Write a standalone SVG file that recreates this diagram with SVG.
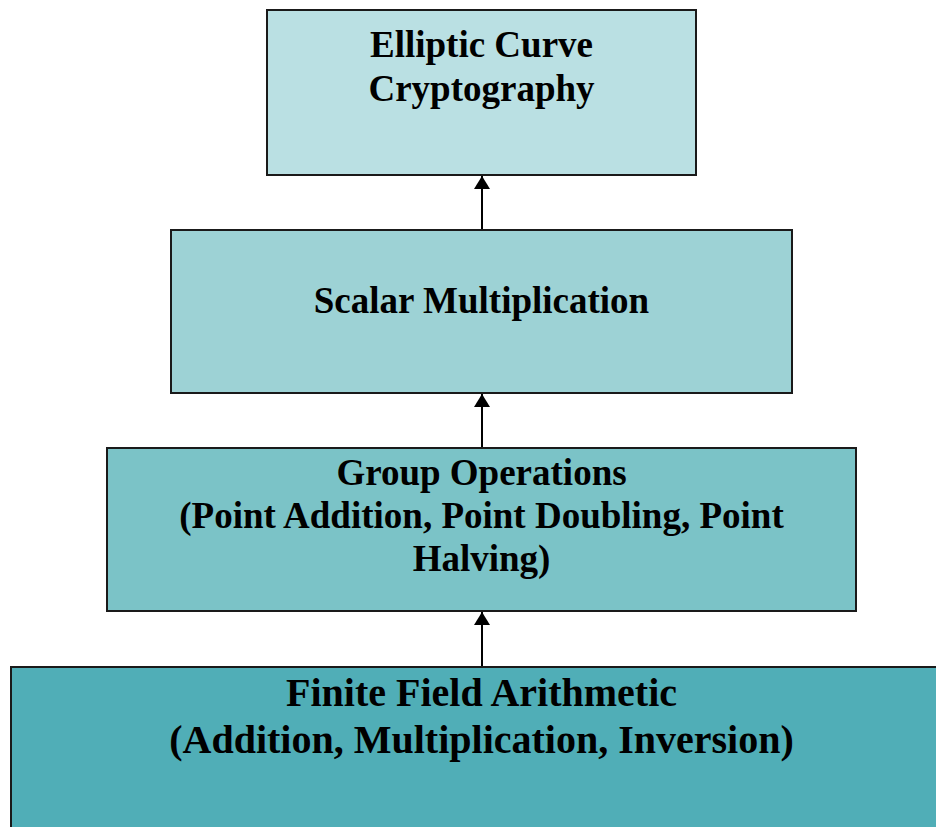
<svg xmlns="http://www.w3.org/2000/svg" width="936" height="827" viewBox="0 0 936 827">
<style>
.box{stroke:#1a1a1a;stroke-width:2}
.c{stroke:#000;stroke-width:2;fill:none}
</style>
<defs>
<marker id="ah" markerWidth="13" markerHeight="16" refX="13" refY="8" orient="auto" markerUnits="userSpaceOnUse" viewBox="0 0 13 16">
<path d="M0,0 L13,8 L0,16 Z" fill="#000"/>
</marker>
</defs>
<rect width="936" height="827" fill="#fff"/>
<g font-family="Liberation Serif, Times New Roman, serif" font-weight="bold" font-size="37" text-anchor="middle" fill="#000">
<g id="ecc">
<rect class="box" x="267" y="10" width="429" height="165" fill="#bae0e3"/>
<text x="481.5" y="57">Elliptic Curve</text>
<text x="481.5" y="101">Cryptography</text>
</g>
<g id="scalar">
<rect class="box" x="171" y="230" width="621" height="163" fill="#9dd2d5"/>
<text x="481.5" y="313">Scalar Multiplication</text>
</g>
<g id="group">
<rect class="box" x="107" y="448" width="749" height="163" fill="#7bc3c7"/>
<text x="481.5" y="485">Group Operations</text>
<text x="481.5" y="528">(Point Addition, Point Doubling, Point</text>
<text x="481.5" y="571">Halving)</text>
</g>
<g id="field" font-size="40">
<rect class="box" x="11" y="667" width="940" height="180" fill="#50aeb7"/>
<text x="481.5" y="706">Finite Field Arithmetic</text>
<text x="481.5" y="753">(Addition, Multiplication, Inversion)</text>
</g>
</g>
<g id="connectors">
<line class="c" x1="482" y1="229" x2="482" y2="176" marker-end="url(#ah)"/>
<line class="c" x1="482" y1="447" x2="482" y2="394" marker-end="url(#ah)"/>
<line class="c" x1="482" y1="666" x2="482" y2="612" marker-end="url(#ah)"/>
</g>
</svg>
